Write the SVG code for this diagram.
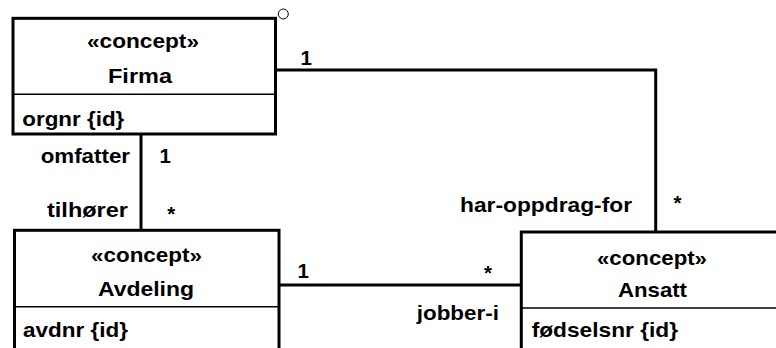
<svg xmlns="http://www.w3.org/2000/svg" width="776" height="348" viewBox="0 0 776 348">
<style>
.box{fill:#fff;stroke:#000;stroke-width:3}
.div{stroke:#000;stroke-width:1.5}
.con{fill:none;stroke:#000;stroke-width:3}
text{font-family:"Liberation Sans",Arial,sans-serif;font-weight:bold;font-size:20.5px;fill:#000}
</style>
<rect width="776" height="348" fill="#fff"/>
<g id="connectors">
<polyline class="con" points="275.5,70 655.7,70 655.7,232"/>
<line class="con" x1="141" y1="134" x2="141" y2="230"/>
<line class="con" x1="279" y1="285" x2="521.3" y2="285"/>
<text x="300.5" y="64.5">1</text>
<text x="673.5" y="210">*</text>
<text x="460" y="212" textLength="172" lengthAdjust="spacingAndGlyphs">har-oppdrag-for</text>
<text x="40.7" y="163.3" textLength="89.3" lengthAdjust="spacingAndGlyphs">omfatter</text>
<text x="159.5" y="163.3">1</text>
<text x="167.3" y="221">*</text>
<text x="47" y="216.7" textLength="81" lengthAdjust="spacingAndGlyphs">tilhører</text>
<text x="297.5" y="278.3">1</text>
<text x="484" y="280">*</text>
<text x="416.7" y="320" textLength="82.3" lengthAdjust="spacingAndGlyphs">jobber-i</text>
</g>
<g id="firma">
<rect class="box" x="13" y="18.3" width="262.5" height="115.7"/>
<line class="div" x1="13" y1="94.3" x2="275.5" y2="94.3"/>
<circle cx="283.3" cy="14" r="5" fill="#fff" stroke="#000" stroke-width="1"/>
<text x="87" y="47.5" textLength="112" lengthAdjust="spacingAndGlyphs">«concept»</text>
<text x="108" y="83.3" textLength="64" lengthAdjust="spacingAndGlyphs">Firma</text>
<text x="22.3" y="126" textLength="102" lengthAdjust="spacingAndGlyphs">orgnr {id}</text>
</g>
<g id="avdeling">
<rect class="box" x="14.5" y="230.3" width="264.5" height="140"/>
<line class="div" x1="14.5" y1="306.7" x2="279" y2="306.7"/>
<text x="91" y="262" textLength="111" lengthAdjust="spacingAndGlyphs">«concept»</text>
<text x="98" y="295.7" textLength="96" lengthAdjust="spacingAndGlyphs">Avdeling</text>
<text x="23" y="336.7" textLength="105" lengthAdjust="spacingAndGlyphs">avdnr {id}</text>
</g>
<g id="ansatt">
<rect class="box" x="521.3" y="232" width="300" height="140"/>
<line class="div" x1="521.3" y1="308" x2="821.3" y2="308"/>
<text x="597" y="265" textLength="110" lengthAdjust="spacingAndGlyphs">«concept»</text>
<text x="618" y="297.3" textLength="69" lengthAdjust="spacingAndGlyphs">Ansatt</text>
<text x="531.7" y="337" textLength="146.3" lengthAdjust="spacingAndGlyphs">fødselsnr {id}</text>
</g>
</svg>
